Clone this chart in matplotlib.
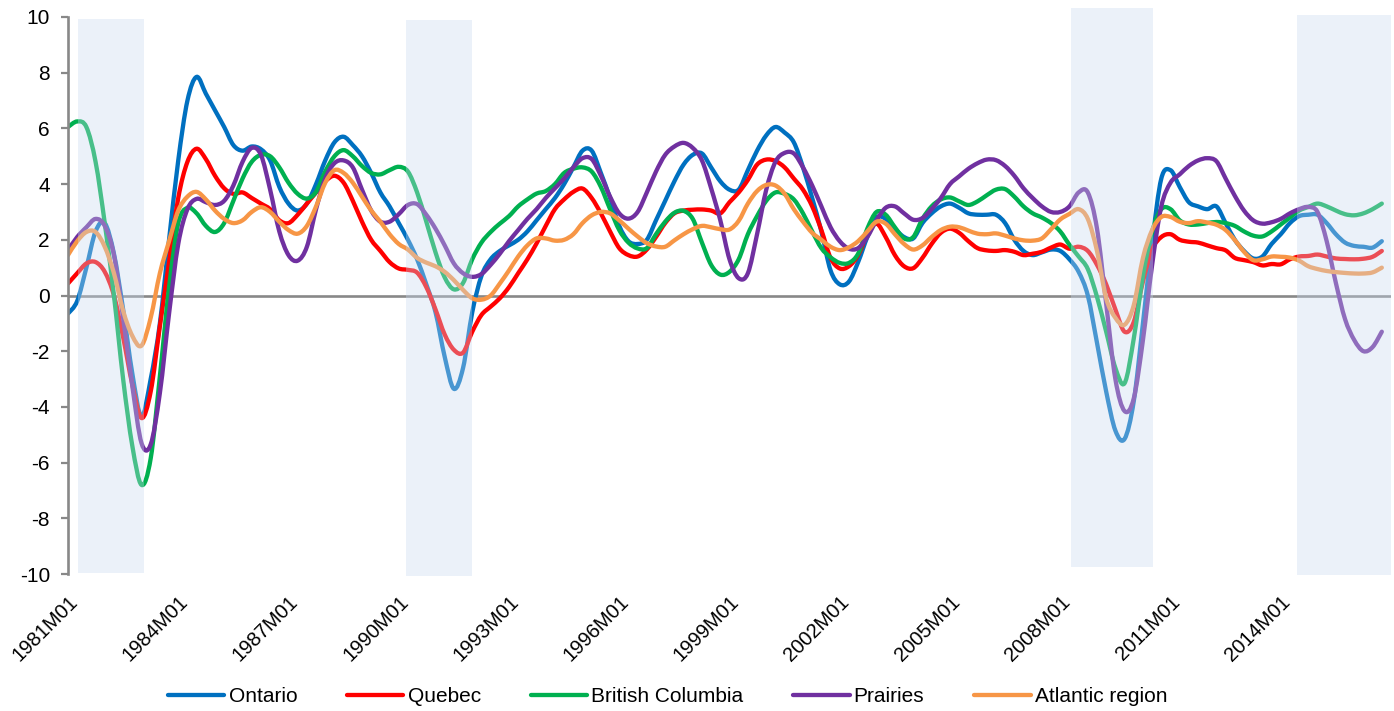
import numpy as np
import pandas as pd
import matplotlib
matplotlib.use("Agg")
import matplotlib.pyplot as plt
from matplotlib.path import Path
from matplotlib.patches import PathPatch
from matplotlib.lines import Line2D

plt.rcParams['font.family'] = ['Liberation Sans', 'DejaVu Sans']

# ---------------- data (quarterly, 1981Q1 .. 2016Q4) ----------------
start_period = "1981Q1"
n_periods = 144

ontario = [
    -0.65, -0.2, 1.0, 2.3, 2.6, 1.5, -0.5, -2.8, -4.35, -3.0, -1.0, 2.0,
    4.85, 7.0, 7.85, 7.25, 6.65, 6.05, 5.4, 5.2, 5.35, 5.25, 4.85, 3.9,
    3.3, 3.05, 3.3, 4.0, 4.85, 5.5, 5.7, 5.4, 5.0, 4.4, 3.7, 3.2,
    2.6, 2.0, 1.3, 0.4, -0.6, -2.2, -3.35, -2.6, -0.6, 0.7, 1.3, 1.6,
    1.8, 2.0, 2.3, 2.7, 3.1, 3.5, 4.0, 4.6, 5.2, 5.2, 4.4, 3.5,
    2.5, 1.95, 1.85, 2.0, 2.7, 3.4, 4.1, 4.7, 5.05, 5.1, 4.6, 4.1,
    3.8, 3.8, 4.5, 5.2, 5.75, 6.05, 5.85, 5.5, 4.6, 3.5, 2.3, 0.9,
    0.4, 0.5, 1.2, 2.1, 2.8, 2.75, 2.4, 2.1, 2.05, 2.6, 2.95, 3.2,
    3.3, 3.15, 2.95, 2.9, 2.9, 2.9, 2.6, 2.0, 1.6, 1.45, 1.55, 1.65,
    1.6, 1.3, 0.85, 0.0, -1.7, -3.45, -4.85, -5.15, -3.8, -1.0, 1.9, 4.2,
    4.5, 3.9, 3.35, 3.2, 3.1, 3.2, 2.6, 2.0, 1.6, 1.33, 1.4, 1.85,
    2.2, 2.6, 2.85, 2.9, 2.9, 2.6, 2.2, 1.9, 1.78, 1.75, 1.72, 1.95,
]

quebec = [
    0.43, 0.8, 1.15, 1.2, 0.85, 0.0, -1.5, -3.2, -4.4, -3.45, -1.1, 1.2,
    3.5, 4.8, 5.27, 4.9, 4.3, 3.85, 3.65, 3.7, 3.5, 3.3, 3.1, 2.7,
    2.6, 2.9, 3.3, 3.7, 4.1, 4.3, 4.05, 3.4, 2.65, 2.0, 1.6, 1.2,
    0.97, 0.92, 0.82, 0.3, -0.5, -1.4, -1.95, -2.05, -1.3, -0.7, -0.4, -0.1,
    0.3, 0.8, 1.3, 1.87, 2.5, 3.1, 3.45, 3.72, 3.84, 3.5, 2.95, 2.3,
    1.7, 1.45, 1.4, 1.65, 2.1, 2.6, 2.95, 3.05, 3.08, 3.09, 3.05, 2.95,
    3.35, 3.7, 4.15, 4.7, 4.88, 4.83, 4.6, 4.2, 3.8, 3.2, 2.35, 1.35,
    0.97, 1.05, 1.45, 2.2, 2.58, 2.1, 1.45, 1.05, 0.98, 1.35, 1.85, 2.25,
    2.4, 2.25, 1.95, 1.7, 1.62, 1.6, 1.63, 1.57, 1.45, 1.5, 1.57, 1.72,
    1.83, 1.68, 1.75, 1.6, 1.1, 0.4, -0.5, -1.3, -0.95, 0.5, 1.65, 2.1,
    2.2, 2.0, 1.93, 1.9, 1.8, 1.7, 1.62, 1.35, 1.27, 1.2, 1.08, 1.13,
    1.12, 1.3, 1.4, 1.42, 1.47, 1.4, 1.33, 1.31, 1.3, 1.32, 1.39, 1.6,
]

british_columbia = [
    6.05, 6.25, 6.05, 4.8, 2.6, 0.0, -3.0, -5.4, -6.8, -5.85, -2.9, 0.3,
    2.6, 3.15, 2.95, 2.5, 2.28, 2.6, 3.4, 4.2, 4.8, 5.05, 5.0, 4.6,
    4.05, 3.65, 3.48, 3.72, 4.45, 5.0, 5.22, 5.0, 4.65, 4.4, 4.35, 4.5,
    4.62, 4.45, 3.7, 2.65, 1.55, 0.65, 0.22, 0.45, 1.3, 1.9, 2.28, 2.58,
    2.85, 3.2, 3.45, 3.66, 3.75, 4.0, 4.4, 4.55, 4.6, 4.45, 3.9, 3.1,
    2.35, 1.9, 1.69, 1.7, 2.2, 2.65, 2.97, 3.04, 2.75, 1.9, 1.1, 0.75,
    0.85, 1.3, 2.2, 2.85, 3.4, 3.7, 3.65, 3.45, 2.95, 2.3, 1.7, 1.37,
    1.17, 1.17, 1.5, 2.4, 3.0, 2.9, 2.45, 2.05, 2.1, 2.75, 3.2, 3.45,
    3.52, 3.38, 3.25, 3.38, 3.6, 3.8, 3.82, 3.55, 3.2, 2.95, 2.8, 2.6,
    2.3, 1.82, 1.4, 0.95, -0.05, -1.3, -2.6, -3.15, -1.55, 0.7, 2.3, 3.1,
    3.1, 2.7, 2.55, 2.55, 2.6, 2.64, 2.6, 2.5, 2.3, 2.15, 2.12, 2.3,
    2.55, 2.8, 3.05, 3.18, 3.3, 3.2, 3.05, 2.92, 2.88, 2.95, 3.1, 3.3,
]

prairies = [
    1.63, 2.1, 2.45, 2.75, 2.5, 1.45, -0.8, -3.25, -5.3, -5.35, -3.5, -0.65,
    1.85, 3.1, 3.47, 3.35, 3.25, 3.4, 3.95, 4.8, 5.3, 5.05, 3.8, 2.3,
    1.45, 1.25, 1.75, 3.1, 4.2, 4.75, 4.85, 4.6, 3.8, 3.05, 2.65, 2.65,
    2.92, 3.25, 3.28, 2.9, 2.4, 1.8, 1.15, 0.8, 0.67, 0.77, 1.1, 1.5,
    1.95, 2.35, 2.75, 3.1, 3.5, 3.85, 4.2, 4.6, 4.93, 4.9, 4.3, 3.55,
    2.95, 2.76, 3.0, 3.7, 4.45, 5.05, 5.35, 5.48, 5.3, 4.85, 3.85, 2.7,
    1.3, 0.62, 0.8, 2.2, 3.8, 4.8, 5.12, 5.1, 4.6, 3.95, 3.2, 2.45,
    1.95, 1.68, 1.7, 2.1, 2.7, 3.15, 3.2, 2.95, 2.72, 2.78, 3.1, 3.5,
    4.0, 4.28, 4.55, 4.75, 4.88, 4.86, 4.65, 4.3, 3.85, 3.5, 3.2, 3.0,
    3.0, 3.2, 3.7, 3.7, 2.4, -0.3, -3.0, -4.15, -3.7, -1.6, 1.1, 3.2,
    4.05, 4.35, 4.65, 4.85, 4.93, 4.82, 4.2, 3.58, 3.05, 2.7, 2.58, 2.63,
    2.75, 2.95, 3.1, 3.18, 3.0, 1.95, 0.45, -0.85, -1.6, -2.0, -1.85, -1.3,
]

atlantic = [
    1.45, 1.95, 2.28, 2.28, 1.75, 0.8, -0.55, -1.45, -1.8, -0.8, 0.8, 1.95,
    3.05, 3.55, 3.72, 3.45, 3.05, 2.75, 2.6, 2.7, 3.0, 3.17, 3.0, 2.65,
    2.35, 2.22, 2.5, 3.2, 4.05, 4.5, 4.4, 4.05, 3.55, 3.05, 2.65, 2.2,
    1.85, 1.65, 1.35, 1.18, 1.05, 0.85, 0.55, 0.2, -0.1, -0.15, 0.0, 0.43,
    0.9, 1.4, 1.8, 2.05, 2.05, 1.97, 2.0, 2.2, 2.6, 2.88, 3.0, 2.95,
    2.7, 2.4, 2.12, 1.88, 1.76, 1.75, 1.98, 2.2, 2.38, 2.5, 2.45, 2.38,
    2.37, 2.68, 3.3, 3.75, 3.97, 3.95, 3.65, 3.1, 2.65, 2.25, 2.0, 1.75,
    1.63, 1.73, 1.95, 2.3, 2.65, 2.58, 2.2, 1.85, 1.65, 1.8, 2.1, 2.35,
    2.47, 2.45, 2.33, 2.22, 2.2, 2.23, 2.15, 2.05, 1.98, 1.97, 2.05, 2.38,
    2.73, 2.93, 3.1, 2.75, 1.6, -0.1, -0.8, -1.05, -0.35, 1.35, 2.35, 2.82,
    2.82, 2.65, 2.6, 2.67, 2.62, 2.54, 2.35, 1.99, 1.57, 1.27, 1.3, 1.4,
    1.39, 1.36, 1.25, 1.05, 0.95, 0.88, 0.84, 0.81, 0.79, 0.79, 0.83, 1.0,
]

series_names = ["Ontario", "Quebec", "British Columbia", "Prairies", "Atlantic region"]
series_values = [ontario, quebec, british_columbia, prairies, atlantic]
series_colors = ["#0070C0", "#FF0000", "#00B050", "#7030A0", "#F79646"]

# shaded periods: (start, end, bottom, top) in decimal years / axis units
shade_start = [1981.27, 1990.20, 2008.28, 2014.43]
shade_end = [1983.07, 1991.99, 2010.53, 2017.0]
shade_bottom = [-9.97, -10.08, -9.75, -10.03]
shade_top = [9.92, 9.88, 10.33, 10.06]

tick_years = list(range(1981, 2015, 3))
tick_labels = [f"{y}M01" for y in tick_years]


def smooth_path(xs, ys):
    """Excel-style smoothed line: Catmull-Rom through the data points,
    rendered as cubic Bezier segments by matplotlib."""
    p = np.column_stack([xs, ys]).astype(float)
    n = len(p)
    verts = [p[0]]
    codes = [Path.MOVETO]
    for i in range(n - 1):
        p0 = p[i - 1] if i > 0 else p[i]
        p1 = p[i]
        p2 = p[i + 1]
        p3 = p[i + 2] if i + 2 < n else p[i + 1]
        c1 = p1 + (p2 - p0) / 6.0
        c2 = p2 - (p3 - p1) / 6.0
        verts += [c1, c2, p2]
        codes += [Path.CURVE4] * 3
    return Path(np.array(verts), codes)


# ---------------- plot ----------------
periods = pd.period_range(start_period, periods=n_periods, freq="Q")
x = np.asarray(periods.year + (periods.quarter - 1) / 4.0, dtype=float)

fig = plt.figure(figsize=(13.94, 7.11), dpi=100)
ax = fig.add_axes([68 / 1394, 1 - 574 / 711, (1391 - 68) / 1394, (574 - 17) / 711])

ax.axhline(0, color="#888888", lw=1.9, zorder=1)

handles = []
for name, vals, col in zip(series_names, series_values, series_colors):
    patch = PathPatch(smooth_path(x, vals), facecolor="none", edgecolor=col,
                      lw=3.1, zorder=2, joinstyle="round", capstyle="round",
                      transform=ax.transData)
    ax.add_patch(patch)
    handles.append(Line2D([], [], color=col, lw=3.1, solid_capstyle="round",
                          label=name))

for s, e, b, t in zip(shade_start, shade_end, shade_bottom, shade_top):
    ax.fill_between([s, e], [b, b], [t, t], color="#C8DAF0", alpha=0.36,
                    lw=0, zorder=3, clip_on=False)

ax.set_xlim(1981.0, 2017.0)
ax.set_ylim(-10, 10)
ax.set_yticks(range(-10, 11, 2))
ax.set_yticklabels([str(v) for v in range(-10, 11, 2)], fontsize=15)

ax.set_xticks(tick_years)
ax.set_xticklabels(tick_labels, rotation=45, ha="right", va="top",
                   rotation_mode="anchor", fontsize=14.5)
ax.tick_params(axis="x", length=0, pad=13)
ax.tick_params(axis="y", length=5, width=1.6, color="#888888", pad=8,
               direction="out")

for sp in ["top", "right", "bottom"]:
    ax.spines[sp].set_visible(False)
ax.spines["left"].set_color("#888888")
ax.spines["left"].set_linewidth(1.9)

fig.legend(handles=handles, loc="center", bbox_to_anchor=(0.479, 0.0197),
           bbox_transform=fig.transFigure, ncol=5, frameon=False,
           fontsize=15, handlelength=2.7, handletextpad=0.2,
           columnspacing=2.4)

fig.savefig("out.png", dpi=100)
